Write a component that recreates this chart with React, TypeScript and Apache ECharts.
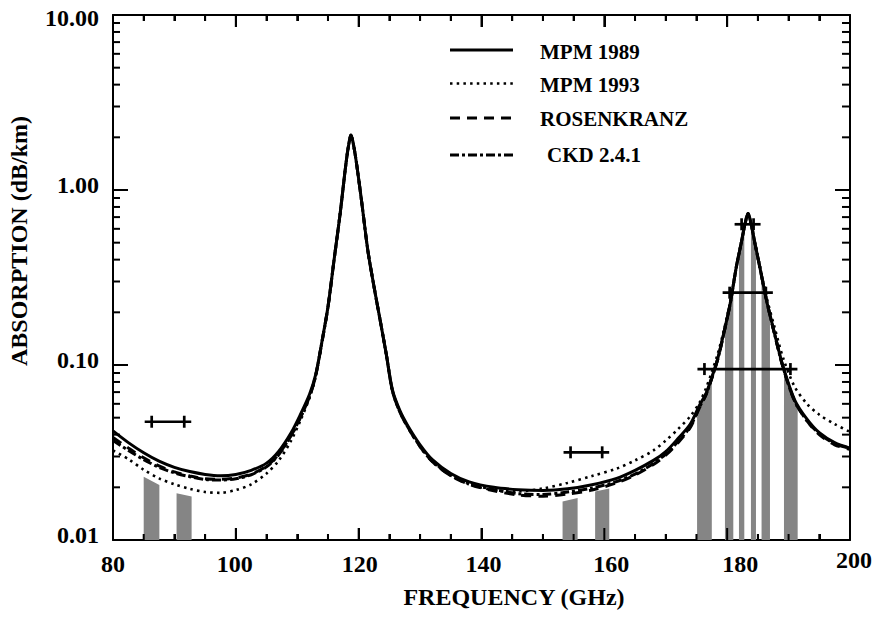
import React, { useEffect, useRef } from 'react';
import * as echarts from 'echarts';

// ---------- data ----------
const freqs = [80, 82.5, 85, 87.5, 90, 92.5, 95, 97.5, 100, 102.5, 105, 107, 109, 110.5, 112, 113, 114, 115, 116, 117, 117.8, 118.3, 118.75, 119.2, 119.7, 120.5, 121.5, 122.5, 123.5, 124.5, 125.5, 126.7, 128, 130, 132, 135, 138, 142, 146, 150, 154, 158, 162, 165, 168, 170, 172, 174, 175.5, 176.5, 177.5, 178.5, 179.5, 180.5, 181.5, 182.3, 182.9, 183.4, 183.9, 184.5, 185.3, 186.4, 187.7, 189.1, 191, 193, 195, 197.5, 200];

const mpm1989 = [0.042, 0.036, 0.0315, 0.0282, 0.026, 0.0246, 0.0237, 0.0233, 0.0237, 0.025, 0.0275, 0.0322, 0.041, 0.052, 0.068, 0.088, 0.135, 0.215, 0.40, 0.74, 1.30, 1.75, 2.06, 1.78, 1.38, 0.85, 0.45, 0.28, 0.18, 0.115, 0.072, 0.055, 0.045, 0.035, 0.0288, 0.024, 0.0215, 0.0200, 0.0194, 0.0192, 0.0196, 0.0207, 0.0225, 0.025, 0.0285, 0.032, 0.038, 0.046, 0.059, 0.068, 0.085, 0.11, 0.155, 0.225, 0.365, 0.50, 0.64, 0.735, 0.64, 0.50, 0.365, 0.235, 0.152, 0.098, 0.063, 0.049, 0.041, 0.036, 0.0335];

const mpm1993 = [0.0325, 0.029, 0.0252, 0.0225, 0.0208, 0.0196, 0.0188, 0.0186, 0.0193, 0.0208, 0.024, 0.0285, 0.037, 0.048, 0.065, 0.086, 0.133, 0.213, 0.40, 0.74, 1.30, 1.75, 2.06, 1.78, 1.38, 0.85, 0.45, 0.28, 0.18, 0.115, 0.071, 0.054, 0.0443, 0.0345, 0.0283, 0.0233, 0.0208, 0.0193, 0.019, 0.0197, 0.0212, 0.0232, 0.0256, 0.0285, 0.0325, 0.037, 0.043, 0.051, 0.061, 0.073, 0.091, 0.117, 0.16, 0.23, 0.365, 0.50, 0.63, 0.72, 0.63, 0.50, 0.37, 0.245, 0.165, 0.11, 0.075, 0.06, 0.052, 0.046, 0.0415];

const rosenkranz = [0.0385, 0.0335, 0.0295, 0.0265, 0.0245, 0.0232, 0.0224, 0.0222, 0.0226, 0.0238, 0.0264, 0.031, 0.0395, 0.050, 0.066, 0.087, 0.134, 0.214, 0.40, 0.74, 1.30, 1.75, 2.06, 1.78, 1.38, 0.85, 0.45, 0.28, 0.18, 0.115, 0.071, 0.054, 0.044, 0.0342, 0.028, 0.0233, 0.0208, 0.0191, 0.0181, 0.0178, 0.0183, 0.0193, 0.0212, 0.0235, 0.027, 0.0305, 0.036, 0.044, 0.057, 0.067, 0.084, 0.109, 0.154, 0.225, 0.365, 0.50, 0.64, 0.735, 0.64, 0.50, 0.365, 0.235, 0.151, 0.097, 0.062, 0.048, 0.040, 0.035, 0.033];

const ckd241 = [0.037, 0.0325, 0.0288, 0.026, 0.0242, 0.023, 0.0222, 0.022, 0.0224, 0.0236, 0.0262, 0.0308, 0.0395, 0.050, 0.066, 0.087, 0.134, 0.214, 0.40, 0.74, 1.30, 1.75, 2.06, 1.78, 1.38, 0.85, 0.45, 0.28, 0.18, 0.115, 0.071, 0.054, 0.0442, 0.0342, 0.0281, 0.0234, 0.0211, 0.0194, 0.0184, 0.0182, 0.0188, 0.0198, 0.0216, 0.0238, 0.0274, 0.031, 0.0365, 0.0445, 0.0575, 0.067, 0.084, 0.109, 0.154, 0.225, 0.365, 0.50, 0.64, 0.735, 0.64, 0.50, 0.365, 0.235, 0.151, 0.097, 0.062, 0.048, 0.0405, 0.0355, 0.0335];

// channel pass-bands (grey): start / end frequency and top value at each edge
const chanLo = [85.0, 90.35, 153.2, 158.5, 175.1, 179.64, 181.92, 183.87, 185.6, 189.25];
const chanHi = [87.55, 92.8, 155.65, 160.8, 177.5, 181.0, 182.79, 184.69, 186.97, 191.48];
const chanTopLo = [0.023, 0.0185, 0.0166, 0.0189, 0.055, 0.163, 0.44, 0.645, 0.33, 0.095];
const chanTopHi = [0.0206, 0.0177, 0.0174, 0.0197, 0.085, 0.29, 0.61, 0.46, 0.195, 0.059];

// "+----+" channel markers
const markLo = [86.3, 154.5, 182.35, 180.4, 176.3];
const markHi = [91.6, 159.65, 184.3, 186.3, 190.3];
const markLevel = [0.0474, 0.0317, 0.637, 0.259, 0.0948];

// axis ticks
const xTicks = [80, 100, 120, 140, 160, 180, 200];
const xMinorTicks = [85, 90, 95, 105, 110, 115, 125, 130, 135, 145, 150, 155, 165, 170, 175, 185, 190, 195];
const yTicks = [0.01, 0.1, 1, 10];
const yMinorTicks = [0.02, 0.03, 0.04, 0.05, 0.06, 0.07, 0.08, 0.09, 0.2, 0.3, 0.4, 0.5, 0.6, 0.7, 0.8, 0.9, 2, 3, 4, 5, 6, 7, 8, 9];

const seriesNames = ['MPM 1989', 'MPM 1993', 'ROSENKRANZ', 'CKD 2.4.1'];

const X_MIN = 80, X_MAX = 200, Y_MIN = 0.01, Y_MAX = 10;

// ---------- styles ----------
const FONT = '"Liberation Serif", "Times New Roman", Times, serif';
const lineDashes: (number[] | null)[] = [null, [2.5, 4.2], [10, 7], [9, 3, 3, 3]];
const lineWidths = [3, 2.6, 3, 3];
const xLabelShift: Record<number, number> = { 80: 0, 100: -1, 120: 1, 140: 2, 160: 7, 180: 13, 200: 4 };

function legendAndTitleGraphics() {
  const legendY = [50, 83.5, 118, 155];
  const legendTextX = [540, 540, 540, 547];
  const legendTextY = [51.5, 85, 118.5, 155];
  const graphics: any[] = [];
  seriesNames.forEach((name, k) => {
    graphics.push({
      type: 'line', shape: { x1: 450, y1: legendY[k], x2: 513, y2: legendY[k] },
      style: { stroke: '#000', lineWidth: lineWidths[k], lineDash: lineDashes[k] || null },
    });
    graphics.push({
      type: 'text', x: legendTextX[k], y: legendTextY[k],
      style: { text: name, fill: '#000', fontSize: 21, fontWeight: 'bold', fontFamily: FONT, textAlign: 'left', textVerticalAlign: 'middle' },
    });
  });
  graphics.push({
    type: 'text', x: 514, y: 597,
    style: { text: 'FREQUENCY (GHz)', fill: '#000', fontSize: 24, fontWeight: 'bold', fontFamily: FONT, textAlign: 'center', textVerticalAlign: 'middle' },
  });
  graphics.push({
    type: 'text', x: 19, y: 241, rotation: Math.PI / 2,
    style: { text: 'ABSORPTION (dB/km)', fill: '#000', fontSize: 24, fontWeight: 'bold', fontFamily: FONT, textAlign: 'center', textVerticalAlign: 'middle' },
  });
  return graphics;
}

// inward-pointing ticks on all four sides, placed through the chart's own scales
function tickGraphics(toPx: (x: number, y: number) => number[]) {
  const out: any[] = [];
  const st = () => ({ stroke: '#000', lineWidth: 2 });
  const ok = (p: number[]) => Array.isArray(p) && isFinite(p[0]) && isFinite(p[1]);
  const addX = (v: number, len: number) => {
    const b = toPx(v, Y_MIN);
    const t = toPx(v, Y_MAX);
    if (!ok(b) || !ok(t)) return;
    out.push({ type: 'line', silent: true, z: 100, shape: { x1: b[0], y1: b[1], x2: b[0], y2: b[1] - len }, style: st() });
    out.push({ type: 'line', silent: true, z: 100, shape: { x1: t[0], y1: t[1], x2: t[0], y2: t[1] + len }, style: st() });
  };
  const addY = (v: number, lenL: number, lenR: number) => {
    const l = toPx(X_MIN, v);
    const r = toPx(X_MAX, v);
    if (!ok(l) || !ok(r)) return;
    out.push({ type: 'line', silent: true, z: 100, shape: { x1: l[0], y1: l[1], x2: l[0] + lenL, y2: l[1] }, style: st() });
    out.push({ type: 'line', silent: true, z: 100, shape: { x1: r[0] - lenR, y1: r[1], x2: r[0], y2: r[1] }, style: st() });
  };
  xTicks.forEach((v) => addX(v, 12));
  xMinorTicks.forEach((v) => addX(v, 6));
  yTicks.forEach((v) => addY(v, 15, 15));
  yMinorTicks.forEach((v) => addY(v, 7, 8));
  return out;
}

function buildOption() {
  const baseText = { fontSize: 24, fontWeight: 'bold', fontFamily: FONT, color: '#000', lineHeight: 24 };
  const xRich: Record<string, any> = {};
  xTicks.forEach((v) => {
    const d = xLabelShift[v] || 0;
    const top = v === 200 ? 0 : 7;
    xRich['t' + v] = { ...baseText, padding: [top, d < 0 ? -2 * d : 0, 0, d > 0 ? 2 * d : 0] };
  });
  const yRich = {
    a: { ...baseText, padding: [6, 0, 0, 0] },
    b: { ...baseText, padding: [0, 0, 10, 0] },
  };

  const axisLine = { show: true, onZero: false, lineStyle: { color: '#000', width: 2 } };
  const xCommon = {
    type: 'value', min: X_MIN, max: X_MAX, interval: 20,
    axisLine,
    axisTick: { show: true, inside: true, length: 12, lineStyle: { color: '#000', width: 2 } },
    minorTick: { show: true, splitNumber: 4, length: 6, lineStyle: { color: '#000', width: 2 } },
    splitLine: { show: false }, minorSplitLine: { show: false },
  };
  const yCommon = {
    type: 'log', logBase: 10, min: Y_MIN, max: Y_MAX,
    axisLine,
    axisTick: { show: true, inside: true, length: 15, lineStyle: { color: '#000', width: 2 } },
    splitLine: { show: false },
  };

  const curves = [mpm1989, mpm1993, rosenkranz, ckd241];
  const lineSeries = curves.map((arr, k) => ({
    type: 'line', name: seriesNames[k],
    data: freqs.map((f, i) => [f, arr[i]]),
    showSymbol: false, symbol: 'none', smooth: 0.3,
    lineStyle: { color: '#000', width: lineWidths[k], type: lineDashes[k] || 'solid', cap: 'butt' },
    z: 3 + (3 - k),
  }));

  return {
    animation: false,
    backgroundColor: '#fff',
    grid: { left: 113, right: 29, top: 15, bottom: 81 },
    xAxis: [
      {
        ...xCommon, position: 'bottom',
        axisLabel: { show: true, margin: 8, formatter: (v: number) => `{t${v}|${v}}`, rich: xRich },
      },
      { ...xCommon, position: 'top', axisLabel: { show: false } },
    ],
    yAxis: [
      {
        ...yCommon, position: 'left',
        axisLabel: {
          show: true, margin: 14,
          formatter: (v: number) => (v >= 9.99 ? `{a|${v.toFixed(2)}}` : `{b|${v.toFixed(2)}}`),
          rich: yRich,
        },
      },
      { ...yCommon, position: 'right', axisLabel: { show: false } },
    ],
    graphic: legendAndTitleGraphics(),
    series: [
      {
        type: 'custom', name: 'channels', xAxisIndex: 0, yAxisIndex: 0, z: 1,
        data: chanLo.map((lo, i) => [lo, chanHi[i], chanTopLo[i], chanTopHi[i]]),
        encode: { x: [0, 1], y: [2, 3] },
        renderItem: (params: any, api: any) => {
          const x0 = api.value(0), x1 = api.value(1), t0 = api.value(2), t1 = api.value(3);
          return {
            type: 'polygon',
            shape: { points: [api.coord([x0, Y_MIN]), api.coord([x0, t0]), api.coord([x1, t1]), api.coord([x1, Y_MIN])] },
            style: { fill: '#858585' },
          };
        },
      },
      ...lineSeries,
      {
        type: 'custom', name: 'markers', xAxisIndex: 0, yAxisIndex: 0, z: 10,
        data: markLo.map((lo, i) => [lo, markHi[i], markLevel[i]]),
        encode: { x: [0, 1], y: 2 },
        renderItem: (params: any, api: any) => {
          const a = api.coord([api.value(0), api.value(2)]);
          const b = api.coord([api.value(1), api.value(2)]);
          const st = { stroke: '#000', lineWidth: 2.7 };
          return {
            type: 'group',
            children: [
              { type: 'line', shape: { x1: a[0] - 7, y1: a[1], x2: b[0] + 7, y2: b[1] }, style: st },
              { type: 'line', shape: { x1: a[0], y1: a[1] - 6, x2: a[0], y2: a[1] + 6 }, style: st },
              { type: 'line', shape: { x1: b[0], y1: b[1] - 6, x2: b[0], y2: b[1] + 6 }, style: st },
            ],
          };
        },
      },
    ],
  };
}

export default function App() {
  const ref = useRef<HTMLDivElement>(null);
  useEffect(() => {
    if (!ref.current) return;
    const chart = echarts.init(ref.current, null, { renderer: 'svg' });
    chart.setOption(buildOption() as any);
    let ticks: any[] = [];
    try {
      const toPx = (x: number, y: number) =>
        chart.convertToPixel({ xAxisIndex: 0, yAxisIndex: 0 } as any, [x, y]) as unknown as number[];
      ticks = tickGraphics(toPx);
    } catch (e) {
      ticks = [];
    }
    if (ticks.length) {
      chart.setOption({ graphic: [...legendAndTitleGraphics(), ...ticks] } as any);
    }
    return () => chart.dispose();
  }, []);
  return (
    <div
      ref={ref}
      style={{ position: 'fixed', left: 0, top: 0, width: 879, height: 621, background: '#fff' }}
    />
  );
}
